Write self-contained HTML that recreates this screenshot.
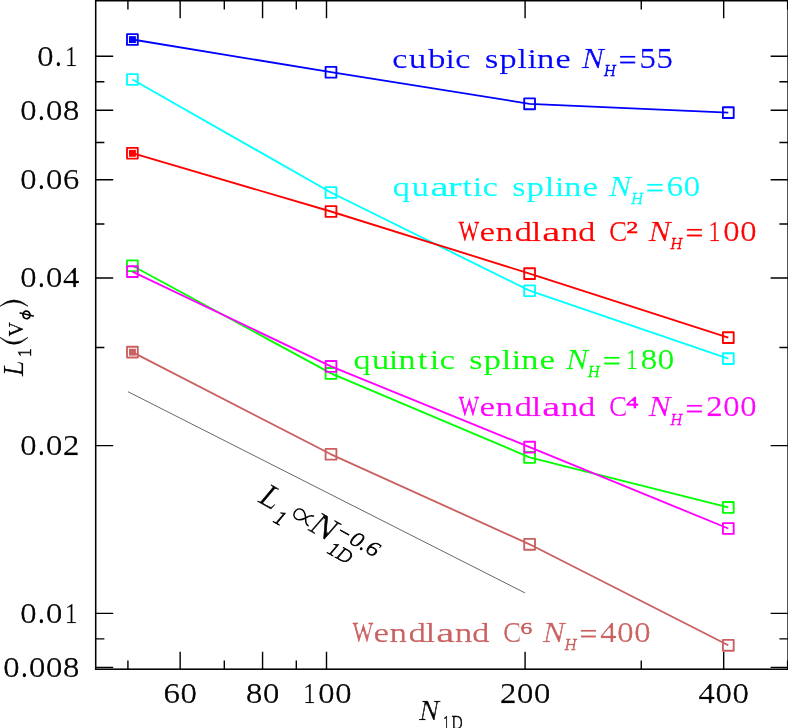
<!DOCTYPE html>
<html><head><meta charset="utf-8"><title>L1 convergence</title>
<style>html,body{margin:0;padding:0;background:#fff}svg{display:block;will-change:transform}text{font-family:"Liberation Serif",serif}.s{font-family:"Liberation Sans",sans-serif}</style></head><body>
<svg width="788" height="728" viewBox="0 0 788 728">
<rect width="788" height="728" fill="#fff"/>
<path d="M127.91 669.2v-8.7M127.91 0.7v8.7M180.15 669.2v-17.5M180.15 0.7v17.5M224.31 669.2v-8.7M224.31 0.7v8.7M262.57 669.2v-17.5M262.57 0.7v17.5M296.31 669.2v-8.7M296.31 0.7v8.7M326.50 669.2v-17.5M326.50 0.7v17.5M525.09 669.2v-17.5M525.09 0.7v17.5M641.26 669.2v-8.7M641.26 0.7v8.7M723.68 669.2v-17.5M723.68 0.7v17.5M95.7 56.20h17.5M788.1 56.20h-17.5M95.7 81.70h8.7M788.1 81.70h-8.7M95.7 110.20h17.5M788.1 110.20h-17.5M95.7 142.51h8.7M788.1 142.51h-8.7M95.7 179.81h17.5M788.1 179.81h-17.5M95.7 223.93h8.7M788.1 223.93h-8.7M95.7 277.93h17.5M788.1 277.93h-17.5M95.7 347.55h8.7M788.1 347.55h-8.7M95.7 445.67h17.5M788.1 445.67h-17.5M95.7 613.40h17.5M788.1 613.40h-17.5M95.7 638.90h8.7M788.1 638.90h-8.7M95.7 667.40h17.5M788.1 667.40h-17.5" stroke="#000" stroke-width="1.4" fill="none"/>
<path d="M787.61 0.7v8.7M787.61 669.2v-8.7" stroke="#000" stroke-width="1.4"/>
<line x1="127.91" y1="391.67" x2="525.09" y2="592.95" stroke="#000" stroke-width="0.6"/>
<g stroke="#0000ff" stroke-width="1.85" fill="none" stroke-linejoin="round">
<polyline points="132.4,39.5 331.0,72.2 529.6,103.8 728.3,112.6"/>
<rect x="127.00" y="34.10" width="10.8" height="10.8"/>
<rect x="325.60" y="66.80" width="10.8" height="10.8"/>
<rect x="524.20" y="98.40" width="10.8" height="10.8"/>
<rect x="722.90" y="107.20" width="10.8" height="10.8"/>
<rect x="129.00" y="36.15" width="6.9" height="6.9" fill="#0000ff" stroke="none"/>
</g>
<g stroke="#00ffff" stroke-width="1.85" fill="none" stroke-linejoin="round">
<polyline points="132.4,79.5 331.0,192.5 529.6,290.7 728.3,358.6"/>
<rect x="127.00" y="74.10" width="10.8" height="10.8"/>
<rect x="325.60" y="187.10" width="10.8" height="10.8"/>
<rect x="524.20" y="285.30" width="10.8" height="10.8"/>
<rect x="722.90" y="353.20" width="10.8" height="10.8"/>
</g>
<g stroke="#00ff00" stroke-width="1.85" fill="none" stroke-linejoin="round">
<polyline points="132.4,265.7 331.0,373.4 529.6,457.4 728.3,507.4"/>
<rect x="127.00" y="260.30" width="10.8" height="10.8"/>
<rect x="325.60" y="368.00" width="10.8" height="10.8"/>
<rect x="524.20" y="452.00" width="10.8" height="10.8"/>
<rect x="722.90" y="502.00" width="10.8" height="10.8"/>
</g>
<g stroke="#ff0000" stroke-width="1.85" fill="none" stroke-linejoin="round">
<polyline points="132.4,153.2 331.0,211.5 529.6,273.6 728.3,337.6"/>
<rect x="127.00" y="147.80" width="10.8" height="10.8"/>
<rect x="325.60" y="206.10" width="10.8" height="10.8"/>
<rect x="524.20" y="268.20" width="10.8" height="10.8"/>
<rect x="722.90" y="332.20" width="10.8" height="10.8"/>
<rect x="129.00" y="149.85" width="6.9" height="6.9" fill="#ff0000" stroke="none"/>
</g>
<g stroke="#ff00ff" stroke-width="1.85" fill="none" stroke-linejoin="round">
<polyline points="132.4,271.6 331.0,366.4 529.6,447.1 728.3,528.5"/>
<rect x="127.00" y="266.20" width="10.8" height="10.8"/>
<rect x="325.60" y="361.00" width="10.8" height="10.8"/>
<rect x="524.20" y="441.70" width="10.8" height="10.8"/>
<rect x="722.90" y="523.10" width="10.8" height="10.8"/>
</g>
<g stroke="#ca6060" stroke-width="1.85" fill="none" stroke-linejoin="round">
<polyline points="132.4,352.1 331.0,454.3 529.6,544.3 728.3,645.3"/>
<rect x="127.00" y="346.70" width="10.8" height="10.8"/>
<rect x="325.60" y="448.90" width="10.8" height="10.8"/>
<rect x="524.20" y="538.90" width="10.8" height="10.8"/>
<rect x="722.90" y="639.90" width="10.8" height="10.8"/>
<rect x="129.00" y="348.75" width="6.9" height="6.9" fill="#ca6060" stroke="none"/>
</g>
<rect x="95.7" y="0.7" width="692.4" height="668.5" fill="none" stroke="#000" stroke-width="1.55"/>
<path d="M0 337.4Q14 351.0 28 337.4Q14 347.2 0 337.4Z" fill="#000" stroke="#000" stroke-width="0.6" stroke-linejoin="round"/>
<path d="M0 306.2Q14 293.8 28 306.2Q14 297.6 0 306.2Z" fill="#000" stroke="#000" stroke-width="0.6" stroke-linejoin="round"/>
<g fill="none" stroke="#000" stroke-width="1.7" stroke-linecap="round"><ellipse cx="26.5" cy="314.9" rx="3.5" ry="3.8" transform="rotate(-13 26.5 314.9)"/><path d="M20.2 313.0L33.2 316.0"/></g>
<path transform="translate(258.1 501.9) rotate(29.5) translate(46.3 -9.4)" d="M9.5 -5.5C5.5 -5.5 4.5 -2.5 3 0C1 3 -1 5.5 -4.3 5.5C-7.5 5.5 -9.5 3 -9.5 0C-9.5 -3 -7.5 -5.5 -4.3 -5.5C-1 -5.5 1 -3 3 0C4.5 2.5 5.5 5.5 9.5 5.5" fill="none" stroke="#000" stroke-width="1.5"/>
<defs><mask id="m" maskUnits="userSpaceOnUse" x="0" y="0" width="788" height="728">
<text transform="translate(45.00 65.70) scale(1.178 1)" text-anchor="middle" font-size="28.50" fill="#fff" stroke="#fff" stroke-width="0.50">0</text>
<text transform="translate(57.80 65.70) scale(0.938 1)" text-anchor="middle" font-size="28.50" fill="#fff" stroke="#fff" stroke-width="1.10">.</text>
<text transform="translate(70.60 65.70) scale(0.896 1)" text-anchor="middle" font-size="28.50" fill="#fff" stroke="#fff" stroke-width="0.50">1</text>
<text transform="translate(28.00 119.70) scale(1.178 1)" text-anchor="middle" font-size="28.50" fill="#fff" stroke="#fff" stroke-width="0.50">0</text>
<text transform="translate(40.80 119.70) scale(0.938 1)" text-anchor="middle" font-size="28.50" fill="#fff" stroke="#fff" stroke-width="1.10">.</text>
<text transform="translate(53.60 119.70) scale(1.178 1)" text-anchor="middle" font-size="28.50" fill="#fff" stroke="#fff" stroke-width="0.50">0</text>
<text transform="translate(70.60 119.70) scale(1.178 1)" text-anchor="middle" font-size="28.50" fill="#fff" stroke="#fff" stroke-width="0.50">8</text>
<text transform="translate(28.00 189.31) scale(1.178 1)" text-anchor="middle" font-size="28.50" fill="#fff" stroke="#fff" stroke-width="0.50">0</text>
<text transform="translate(40.80 189.31) scale(0.938 1)" text-anchor="middle" font-size="28.50" fill="#fff" stroke="#fff" stroke-width="1.10">.</text>
<text transform="translate(53.60 189.31) scale(1.178 1)" text-anchor="middle" font-size="28.50" fill="#fff" stroke="#fff" stroke-width="0.50">0</text>
<text transform="translate(70.60 189.31) scale(1.178 1)" text-anchor="middle" font-size="28.50" fill="#fff" stroke="#fff" stroke-width="0.50">6</text>
<text transform="translate(28.00 287.43) scale(1.178 1)" text-anchor="middle" font-size="28.50" fill="#fff" stroke="#fff" stroke-width="0.50">0</text>
<text transform="translate(40.80 287.43) scale(0.938 1)" text-anchor="middle" font-size="28.50" fill="#fff" stroke="#fff" stroke-width="1.10">.</text>
<text transform="translate(53.60 287.43) scale(1.178 1)" text-anchor="middle" font-size="28.50" fill="#fff" stroke="#fff" stroke-width="0.50">0</text>
<text transform="translate(70.60 287.43) scale(1.178 1)" text-anchor="middle" font-size="28.50" fill="#fff" stroke="#fff" stroke-width="0.50">4</text>
<text transform="translate(28.00 455.17) scale(1.178 1)" text-anchor="middle" font-size="28.50" fill="#fff" stroke="#fff" stroke-width="0.50">0</text>
<text transform="translate(40.80 455.17) scale(0.938 1)" text-anchor="middle" font-size="28.50" fill="#fff" stroke="#fff" stroke-width="1.10">.</text>
<text transform="translate(53.60 455.17) scale(1.178 1)" text-anchor="middle" font-size="28.50" fill="#fff" stroke="#fff" stroke-width="0.50">0</text>
<text transform="translate(70.60 455.17) scale(1.178 1)" text-anchor="middle" font-size="28.50" fill="#fff" stroke="#fff" stroke-width="0.50">2</text>
<text transform="translate(28.00 622.90) scale(1.178 1)" text-anchor="middle" font-size="28.50" fill="#fff" stroke="#fff" stroke-width="0.50">0</text>
<text transform="translate(40.80 622.90) scale(0.938 1)" text-anchor="middle" font-size="28.50" fill="#fff" stroke="#fff" stroke-width="1.10">.</text>
<text transform="translate(53.60 622.90) scale(1.178 1)" text-anchor="middle" font-size="28.50" fill="#fff" stroke="#fff" stroke-width="0.50">0</text>
<text transform="translate(70.60 622.90) scale(0.896 1)" text-anchor="middle" font-size="28.50" fill="#fff" stroke="#fff" stroke-width="0.50">1</text>
<text transform="translate(11.00 676.90) scale(1.178 1)" text-anchor="middle" font-size="28.50" fill="#fff" stroke="#fff" stroke-width="0.50">0</text>
<text transform="translate(23.80 676.90) scale(0.938 1)" text-anchor="middle" font-size="28.50" fill="#fff" stroke="#fff" stroke-width="1.10">.</text>
<text transform="translate(36.60 676.90) scale(1.178 1)" text-anchor="middle" font-size="28.50" fill="#fff" stroke="#fff" stroke-width="0.50">0</text>
<text transform="translate(53.60 676.90) scale(1.178 1)" text-anchor="middle" font-size="28.50" fill="#fff" stroke="#fff" stroke-width="0.50">0</text>
<text transform="translate(70.60 676.90) scale(1.178 1)" text-anchor="middle" font-size="28.50" fill="#fff" stroke="#fff" stroke-width="0.50">8</text>
<text transform="translate(171.15 703.30) scale(1.178 1)" text-anchor="middle" font-size="28.50" fill="#fff" stroke="#fff" stroke-width="0.50">6</text>
<text transform="translate(188.15 703.30) scale(1.178 1)" text-anchor="middle" font-size="28.50" fill="#fff" stroke="#fff" stroke-width="0.50">0</text>
<text transform="translate(253.57 703.30) scale(1.178 1)" text-anchor="middle" font-size="28.50" fill="#fff" stroke="#fff" stroke-width="0.50">8</text>
<text transform="translate(270.57 703.30) scale(1.178 1)" text-anchor="middle" font-size="28.50" fill="#fff" stroke="#fff" stroke-width="0.50">0</text>
<text transform="translate(309.00 703.30) scale(0.896 1)" text-anchor="middle" font-size="28.50" fill="#fff" stroke="#fff" stroke-width="0.50">1</text>
<text transform="translate(326.00 703.30) scale(1.178 1)" text-anchor="middle" font-size="28.50" fill="#fff" stroke="#fff" stroke-width="0.50">0</text>
<text transform="translate(343.00 703.30) scale(1.178 1)" text-anchor="middle" font-size="28.50" fill="#fff" stroke="#fff" stroke-width="0.50">0</text>
<text transform="translate(507.59 703.30) scale(1.178 1)" text-anchor="middle" font-size="28.50" fill="#fff" stroke="#fff" stroke-width="0.50">2</text>
<text transform="translate(524.59 703.30) scale(1.178 1)" text-anchor="middle" font-size="28.50" fill="#fff" stroke="#fff" stroke-width="0.50">0</text>
<text transform="translate(541.59 703.30) scale(1.178 1)" text-anchor="middle" font-size="28.50" fill="#fff" stroke="#fff" stroke-width="0.50">0</text>
<text transform="translate(706.18 703.30) scale(1.178 1)" text-anchor="middle" font-size="28.50" fill="#fff" stroke="#fff" stroke-width="0.50">4</text>
<text transform="translate(723.18 703.30) scale(1.178 1)" text-anchor="middle" font-size="28.50" fill="#fff" stroke="#fff" stroke-width="0.50">0</text>
<text transform="translate(740.18 703.30) scale(1.178 1)" text-anchor="middle" font-size="28.50" fill="#fff" stroke="#fff" stroke-width="0.50">0</text>
<text transform="translate(399.20 68.00) scale(1.316 1)" text-anchor="middle" font-size="26.70" fill="#fff" stroke="#fff" stroke-width="0.50">c</text>
<text transform="translate(417.00 68.00) scale(1.316 1)" text-anchor="middle" font-size="26.70" fill="#fff" stroke="#fff" stroke-width="0.50">u</text>
<text transform="translate(436.20 68.00) scale(1.316 1)" text-anchor="middle" font-size="26.70" fill="#fff" stroke="#fff" stroke-width="0.50">b</text>
<text transform="translate(449.50 68.00) scale(1.316 1)" text-anchor="middle" font-size="26.70" fill="#fff" stroke="#fff" stroke-width="0.50">i</text>
<text transform="translate(462.40 68.00) scale(1.316 1)" text-anchor="middle" font-size="26.70" fill="#fff" stroke="#fff" stroke-width="0.50">c</text>
<text transform="translate(491.10 68.00) scale(1.316 1)" text-anchor="middle" font-size="26.70" fill="#fff" stroke="#fff" stroke-width="0.50">s</text>
<text transform="translate(507.50 68.00) scale(1.316 1)" text-anchor="middle" font-size="26.70" fill="#fff" stroke="#fff" stroke-width="0.50">p</text>
<text transform="translate(521.70 68.00) scale(1.316 1)" text-anchor="middle" font-size="26.70" fill="#fff" stroke="#fff" stroke-width="0.50">l</text>
<text transform="translate(531.70 68.00) scale(1.316 1)" text-anchor="middle" font-size="26.70" fill="#fff" stroke="#fff" stroke-width="0.50">i</text>
<text transform="translate(545.00 68.00) scale(1.316 1)" text-anchor="middle" font-size="26.70" fill="#fff" stroke="#fff" stroke-width="0.50">n</text>
<text transform="translate(562.60 68.00) scale(1.316 1)" text-anchor="middle" font-size="26.70" fill="#fff" stroke="#fff" stroke-width="0.50">e</text>
<text transform="translate(592.40 68.00) scale(1.167 1)" text-anchor="middle" font-size="28.50" fill="#fff" font-style="italic" stroke="#fff" stroke-width="0.50">N</text>
<text transform="translate(609.20 76.20) scale(0.996 1)" text-anchor="middle" font-size="16.81" fill="#fff" font-style="italic" stroke="#fff" stroke-width="0.90">H</text>
<text transform="translate(627.10 70.30) scale(1.167 1)" text-anchor="middle" font-size="28.50" fill="#fff" stroke="#fff" stroke-width="0.50">=</text>
<text transform="translate(647.10 68.00) scale(1.178 1)" text-anchor="middle" font-size="28.50" fill="#fff" stroke="#fff" stroke-width="0.50">5</text>
<text transform="translate(664.10 68.00) scale(1.178 1)" text-anchor="middle" font-size="28.50" fill="#fff" stroke="#fff" stroke-width="0.50">5</text>
<text transform="translate(400.80 195.80) scale(1.316 1)" text-anchor="middle" font-size="26.70" fill="#fff" stroke="#fff" stroke-width="0.50">q</text>
<text transform="translate(419.90 195.80) scale(1.316 1)" text-anchor="middle" font-size="26.70" fill="#fff" stroke="#fff" stroke-width="0.50">u</text>
<text transform="translate(438.90 195.80) scale(1.562 1)" text-anchor="middle" font-size="26.70" fill="#fff" stroke="#fff" stroke-width="0.50">a</text>
<text transform="translate(454.10 195.80) scale(1.562 1)" text-anchor="middle" font-size="26.70" fill="#fff" stroke="#fff" stroke-width="0.50">r</text>
<text transform="translate(466.70 195.80) scale(1.316 1)" text-anchor="middle" font-size="26.70" fill="#fff" stroke="#fff" stroke-width="0.50">t</text>
<text transform="translate(477.10 195.80) scale(1.316 1)" text-anchor="middle" font-size="26.70" fill="#fff" stroke="#fff" stroke-width="0.50">i</text>
<text transform="translate(489.90 195.80) scale(1.316 1)" text-anchor="middle" font-size="26.70" fill="#fff" stroke="#fff" stroke-width="0.50">c</text>
<text transform="translate(518.40 195.80) scale(1.316 1)" text-anchor="middle" font-size="26.70" fill="#fff" stroke="#fff" stroke-width="0.50">s</text>
<text transform="translate(534.80 195.80) scale(1.316 1)" text-anchor="middle" font-size="26.70" fill="#fff" stroke="#fff" stroke-width="0.50">p</text>
<text transform="translate(549.00 195.80) scale(1.316 1)" text-anchor="middle" font-size="26.70" fill="#fff" stroke="#fff" stroke-width="0.50">l</text>
<text transform="translate(559.00 195.80) scale(1.316 1)" text-anchor="middle" font-size="26.70" fill="#fff" stroke="#fff" stroke-width="0.50">i</text>
<text transform="translate(572.30 195.80) scale(1.316 1)" text-anchor="middle" font-size="26.70" fill="#fff" stroke="#fff" stroke-width="0.50">n</text>
<text transform="translate(589.90 195.80) scale(1.316 1)" text-anchor="middle" font-size="26.70" fill="#fff" stroke="#fff" stroke-width="0.50">e</text>
<text transform="translate(619.70 195.80) scale(1.167 1)" text-anchor="middle" font-size="28.50" fill="#fff" font-style="italic" stroke="#fff" stroke-width="0.50">N</text>
<text transform="translate(636.50 204.00) scale(0.996 1)" text-anchor="middle" font-size="16.81" fill="#fff" font-style="italic" stroke="#fff" stroke-width="0.90">H</text>
<text transform="translate(654.40 198.10) scale(1.167 1)" text-anchor="middle" font-size="28.50" fill="#fff" stroke="#fff" stroke-width="0.50">=</text>
<text transform="translate(674.40 195.80) scale(1.178 1)" text-anchor="middle" font-size="28.50" fill="#fff" stroke="#fff" stroke-width="0.50">6</text>
<text transform="translate(691.40 195.80) scale(1.178 1)" text-anchor="middle" font-size="28.50" fill="#fff" stroke="#fff" stroke-width="0.50">0</text>
<text transform="translate(468.40 241.00) scale(0.771 1)" text-anchor="middle" font-size="28.50" fill="#fff" stroke="#fff" stroke-width="1.05">W</text>
<text transform="translate(486.80 241.00) scale(1.316 1)" text-anchor="middle" font-size="26.70" fill="#fff" stroke="#fff" stroke-width="0.50">e</text>
<text transform="translate(503.90 241.00) scale(1.316 1)" text-anchor="middle" font-size="26.70" fill="#fff" stroke="#fff" stroke-width="0.50">n</text>
<text transform="translate(522.90 241.00) scale(1.316 1)" text-anchor="middle" font-size="26.70" fill="#fff" stroke="#fff" stroke-width="0.50">d</text>
<text transform="translate(535.90 241.00) scale(1.316 1)" text-anchor="middle" font-size="26.70" fill="#fff" stroke="#fff" stroke-width="0.50">l</text>
<text transform="translate(550.80 241.00) scale(1.562 1)" text-anchor="middle" font-size="26.70" fill="#fff" stroke="#fff" stroke-width="0.50">a</text>
<text transform="translate(569.00 241.00) scale(1.316 1)" text-anchor="middle" font-size="26.70" fill="#fff" stroke="#fff" stroke-width="0.50">n</text>
<text transform="translate(586.30 241.00) scale(1.316 1)" text-anchor="middle" font-size="26.70" fill="#fff" stroke="#fff" stroke-width="0.50">d</text>
<text transform="translate(617.70 241.00) scale(0.959 1)" text-anchor="middle" font-size="28.50" fill="#fff" stroke="#fff" stroke-width="0.50">C</text>
<text transform="translate(631.80 232.70) scale(1.389 1)" text-anchor="middle" font-size="17.50" fill="#fff" stroke="#fff" stroke-width="0.95">2</text>
<text transform="translate(659.10 241.00) scale(1.167 1)" text-anchor="middle" font-size="28.50" fill="#fff" font-style="italic" stroke="#fff" stroke-width="0.50">N</text>
<text transform="translate(675.90 249.20) scale(0.996 1)" text-anchor="middle" font-size="16.81" fill="#fff" font-style="italic" stroke="#fff" stroke-width="0.90">H</text>
<text transform="translate(693.80 243.30) scale(1.167 1)" text-anchor="middle" font-size="28.50" fill="#fff" stroke="#fff" stroke-width="0.50">=</text>
<text transform="translate(713.80 241.00) scale(0.896 1)" text-anchor="middle" font-size="28.50" fill="#fff" stroke="#fff" stroke-width="0.50">1</text>
<text transform="translate(730.80 241.00) scale(1.178 1)" text-anchor="middle" font-size="28.50" fill="#fff" stroke="#fff" stroke-width="0.50">0</text>
<text transform="translate(747.80 241.00) scale(1.178 1)" text-anchor="middle" font-size="28.50" fill="#fff" stroke="#fff" stroke-width="0.50">0</text>
<text transform="translate(361.60 368.70) scale(1.316 1)" text-anchor="middle" font-size="26.70" fill="#fff" stroke="#fff" stroke-width="0.50">q</text>
<text transform="translate(380.00 368.70) scale(1.316 1)" text-anchor="middle" font-size="26.70" fill="#fff" stroke="#fff" stroke-width="0.50">u</text>
<text transform="translate(393.20 368.70) scale(1.316 1)" text-anchor="middle" font-size="26.70" fill="#fff" stroke="#fff" stroke-width="0.50">i</text>
<text transform="translate(406.50 368.70) scale(1.316 1)" text-anchor="middle" font-size="26.70" fill="#fff" stroke="#fff" stroke-width="0.50">n</text>
<text transform="translate(422.20 368.70) scale(1.316 1)" text-anchor="middle" font-size="26.70" fill="#fff" stroke="#fff" stroke-width="0.50">t</text>
<text transform="translate(434.10 368.70) scale(1.316 1)" text-anchor="middle" font-size="26.70" fill="#fff" stroke="#fff" stroke-width="0.50">i</text>
<text transform="translate(446.90 368.70) scale(1.316 1)" text-anchor="middle" font-size="26.70" fill="#fff" stroke="#fff" stroke-width="0.50">c</text>
<text transform="translate(475.30 368.70) scale(1.316 1)" text-anchor="middle" font-size="26.70" fill="#fff" stroke="#fff" stroke-width="0.50">s</text>
<text transform="translate(491.70 368.70) scale(1.316 1)" text-anchor="middle" font-size="26.70" fill="#fff" stroke="#fff" stroke-width="0.50">p</text>
<text transform="translate(505.90 368.70) scale(1.316 1)" text-anchor="middle" font-size="26.70" fill="#fff" stroke="#fff" stroke-width="0.50">l</text>
<text transform="translate(515.90 368.70) scale(1.316 1)" text-anchor="middle" font-size="26.70" fill="#fff" stroke="#fff" stroke-width="0.50">i</text>
<text transform="translate(529.20 368.70) scale(1.316 1)" text-anchor="middle" font-size="26.70" fill="#fff" stroke="#fff" stroke-width="0.50">n</text>
<text transform="translate(546.80 368.70) scale(1.316 1)" text-anchor="middle" font-size="26.70" fill="#fff" stroke="#fff" stroke-width="0.50">e</text>
<text transform="translate(576.60 368.70) scale(1.167 1)" text-anchor="middle" font-size="28.50" fill="#fff" font-style="italic" stroke="#fff" stroke-width="0.50">N</text>
<text transform="translate(593.40 376.90) scale(0.996 1)" text-anchor="middle" font-size="16.81" fill="#fff" font-style="italic" stroke="#fff" stroke-width="0.90">H</text>
<text transform="translate(611.30 371.00) scale(1.167 1)" text-anchor="middle" font-size="28.50" fill="#fff" stroke="#fff" stroke-width="0.50">=</text>
<text transform="translate(631.30 368.70) scale(0.896 1)" text-anchor="middle" font-size="28.50" fill="#fff" stroke="#fff" stroke-width="0.50">1</text>
<text transform="translate(648.30 368.70) scale(1.178 1)" text-anchor="middle" font-size="28.50" fill="#fff" stroke="#fff" stroke-width="0.50">8</text>
<text transform="translate(665.30 368.70) scale(1.178 1)" text-anchor="middle" font-size="28.50" fill="#fff" stroke="#fff" stroke-width="0.50">0</text>
<text transform="translate(468.40 416.40) scale(0.771 1)" text-anchor="middle" font-size="28.50" fill="#fff" stroke="#fff" stroke-width="1.05">W</text>
<text transform="translate(486.80 416.40) scale(1.316 1)" text-anchor="middle" font-size="26.70" fill="#fff" stroke="#fff" stroke-width="0.50">e</text>
<text transform="translate(503.90 416.40) scale(1.316 1)" text-anchor="middle" font-size="26.70" fill="#fff" stroke="#fff" stroke-width="0.50">n</text>
<text transform="translate(522.90 416.40) scale(1.316 1)" text-anchor="middle" font-size="26.70" fill="#fff" stroke="#fff" stroke-width="0.50">d</text>
<text transform="translate(535.90 416.40) scale(1.316 1)" text-anchor="middle" font-size="26.70" fill="#fff" stroke="#fff" stroke-width="0.50">l</text>
<text transform="translate(550.80 416.40) scale(1.562 1)" text-anchor="middle" font-size="26.70" fill="#fff" stroke="#fff" stroke-width="0.50">a</text>
<text transform="translate(569.00 416.40) scale(1.316 1)" text-anchor="middle" font-size="26.70" fill="#fff" stroke="#fff" stroke-width="0.50">n</text>
<text transform="translate(586.30 416.40) scale(1.316 1)" text-anchor="middle" font-size="26.70" fill="#fff" stroke="#fff" stroke-width="0.50">d</text>
<text transform="translate(617.70 416.40) scale(0.959 1)" text-anchor="middle" font-size="28.50" fill="#fff" stroke="#fff" stroke-width="0.50">C</text>
<text transform="translate(631.80 408.10) scale(1.389 1)" text-anchor="middle" font-size="17.50" fill="#fff" stroke="#fff" stroke-width="0.95">4</text>
<text transform="translate(659.10 416.40) scale(1.167 1)" text-anchor="middle" font-size="28.50" fill="#fff" font-style="italic" stroke="#fff" stroke-width="0.50">N</text>
<text transform="translate(675.90 424.60) scale(0.996 1)" text-anchor="middle" font-size="16.81" fill="#fff" font-style="italic" stroke="#fff" stroke-width="0.90">H</text>
<text transform="translate(693.80 418.70) scale(1.167 1)" text-anchor="middle" font-size="28.50" fill="#fff" stroke="#fff" stroke-width="0.50">=</text>
<text transform="translate(713.80 416.40) scale(1.178 1)" text-anchor="middle" font-size="28.50" fill="#fff" stroke="#fff" stroke-width="0.50">2</text>
<text transform="translate(730.80 416.40) scale(1.178 1)" text-anchor="middle" font-size="28.50" fill="#fff" stroke="#fff" stroke-width="0.50">0</text>
<text transform="translate(747.80 416.40) scale(1.178 1)" text-anchor="middle" font-size="28.50" fill="#fff" stroke="#fff" stroke-width="0.50">0</text>
<text transform="translate(362.40 641.90) scale(0.771 1)" text-anchor="middle" font-size="28.50" fill="#fff" stroke="#fff" stroke-width="1.05">W</text>
<text transform="translate(380.80 641.90) scale(1.316 1)" text-anchor="middle" font-size="26.70" fill="#fff" stroke="#fff" stroke-width="0.50">e</text>
<text transform="translate(397.90 641.90) scale(1.316 1)" text-anchor="middle" font-size="26.70" fill="#fff" stroke="#fff" stroke-width="0.50">n</text>
<text transform="translate(416.90 641.90) scale(1.316 1)" text-anchor="middle" font-size="26.70" fill="#fff" stroke="#fff" stroke-width="0.50">d</text>
<text transform="translate(429.90 641.90) scale(1.316 1)" text-anchor="middle" font-size="26.70" fill="#fff" stroke="#fff" stroke-width="0.50">l</text>
<text transform="translate(444.80 641.90) scale(1.562 1)" text-anchor="middle" font-size="26.70" fill="#fff" stroke="#fff" stroke-width="0.50">a</text>
<text transform="translate(463.00 641.90) scale(1.316 1)" text-anchor="middle" font-size="26.70" fill="#fff" stroke="#fff" stroke-width="0.50">n</text>
<text transform="translate(480.30 641.90) scale(1.316 1)" text-anchor="middle" font-size="26.70" fill="#fff" stroke="#fff" stroke-width="0.50">d</text>
<text transform="translate(511.70 641.90) scale(0.959 1)" text-anchor="middle" font-size="28.50" fill="#fff" stroke="#fff" stroke-width="0.50">C</text>
<text transform="translate(525.80 633.60) scale(1.389 1)" text-anchor="middle" font-size="17.50" fill="#fff" stroke="#fff" stroke-width="0.95">6</text>
<text transform="translate(553.30 641.90) scale(1.167 1)" text-anchor="middle" font-size="28.50" fill="#fff" font-style="italic" stroke="#fff" stroke-width="0.50">N</text>
<text transform="translate(570.10 650.10) scale(0.996 1)" text-anchor="middle" font-size="16.81" fill="#fff" font-style="italic" stroke="#fff" stroke-width="0.90">H</text>
<text transform="translate(588.00 644.20) scale(1.167 1)" text-anchor="middle" font-size="28.50" fill="#fff" stroke="#fff" stroke-width="0.50">=</text>
<text transform="translate(608.00 641.90) scale(1.178 1)" text-anchor="middle" font-size="28.50" fill="#fff" stroke="#fff" stroke-width="0.50">4</text>
<text transform="translate(625.00 641.90) scale(1.178 1)" text-anchor="middle" font-size="28.50" fill="#fff" stroke="#fff" stroke-width="0.50">0</text>
<text transform="translate(642.00 641.90) scale(1.178 1)" text-anchor="middle" font-size="28.50" fill="#fff" stroke="#fff" stroke-width="0.50">0</text>
<text transform="translate(428.60 719.60) scale(1.063 1)" text-anchor="middle" font-size="28.50" fill="#fff" font-style="italic" stroke="#fff" stroke-width="0.50">N</text>
<text transform="translate(445.90 729.30) scale(0.853 1)" text-anchor="middle" font-size="17.96" fill="#fff" stroke="#fff" stroke-width="0.80">1</text>
<text transform="translate(456.50 729.30) scale(0.896 1)" text-anchor="middle" font-size="17.96" fill="#fff" stroke="#fff" stroke-width="0.80">D</text>
<text transform="translate(22.7 0) rotate(-90) translate(-368.90 0.00) scale(1.000 1)" text-anchor="middle" font-size="28.50" fill="#fff" font-style="italic" stroke="#fff" stroke-width="0.50">L</text>
<text transform="translate(22.7 0) rotate(-90) translate(-353.10 8.30) scale(1.067 1)" text-anchor="middle" font-size="17.96" fill="#fff" stroke="#fff" stroke-width="0.80">1</text>
<text transform="translate(22.7 0) rotate(-90) translate(-329.90 0.00) scale(1.000 1)" text-anchor="middle" font-size="28.50" fill="#fff" stroke="#fff" stroke-width="0.50">v</text>
<text transform="translate(258.1 501.9) rotate(29.5) translate(8.00 0.00) scale(1.036 1)" text-anchor="middle" font-size="33.06" fill="#fff" font-style="italic" stroke="#fff" stroke-width="0.50">L</text>
<text transform="translate(258.1 501.9) rotate(29.5) translate(26.60 10.00) scale(1.057 1)" text-anchor="middle" font-size="21.16" fill="#fff" font-style="italic" stroke="#fff" stroke-width="0.80">1</text>
<text transform="translate(258.1 501.9) rotate(29.5) translate(69.00 0.00) scale(1.161 1)" text-anchor="middle" font-size="33.06" fill="#fff" font-style="italic" stroke="#fff" stroke-width="0.50">N</text>
<text transform="translate(258.1 501.9) rotate(29.5) translate(88.50 10.50) scale(1.060 1)" text-anchor="middle" font-size="19.84" fill="#fff" font-style="italic" stroke="#fff" stroke-width="0.80">1</text>
<text transform="translate(258.1 501.9) rotate(29.5) translate(101.10 10.50) scale(1.060 1)" text-anchor="middle" font-size="19.84" fill="#fff" font-style="italic" stroke="#fff" stroke-width="0.80">D</text>
<text transform="translate(258.1 501.9) rotate(29.5) translate(89.60 -9.00) scale(1.057 1)" text-anchor="middle" font-size="21.16" fill="#fff" font-style="italic" stroke="#fff" stroke-width="0.80">−</text>
<text transform="translate(258.1 501.9) rotate(29.5) translate(104.10 -9.00) scale(1.215 1)" text-anchor="middle" font-size="21.16" fill="#fff" font-style="italic" stroke="#fff" stroke-width="0.80">0</text>
<text transform="translate(258.1 501.9) rotate(29.5) translate(112.90 -9.00) scale(1.057 1)" text-anchor="middle" font-size="21.16" fill="#fff" font-style="italic" stroke="#fff" stroke-width="1.10">.</text>
<text transform="translate(258.1 501.9) rotate(29.5) translate(122.50 -9.00) scale(1.215 1)" text-anchor="middle" font-size="21.16" fill="#fff" font-style="italic" stroke="#fff" stroke-width="0.80">6</text>
</mask></defs>
<g mask="url(#m)">
<text transform="translate(46.00 65.70) scale(1.178 1)" text-anchor="middle" font-size="28.50" fill="#000" stroke="#000" stroke-width="0.50">0</text>
<text transform="translate(58.80 65.70) scale(0.938 1)" text-anchor="middle" font-size="28.50" fill="#000" stroke="#000" stroke-width="1.10">.</text>
<text transform="translate(71.60 65.70) scale(0.896 1)" text-anchor="middle" font-size="28.50" fill="#000" stroke="#000" stroke-width="0.50">1</text>
<text transform="translate(29.00 119.70) scale(1.178 1)" text-anchor="middle" font-size="28.50" fill="#000" stroke="#000" stroke-width="0.50">0</text>
<text transform="translate(41.80 119.70) scale(0.938 1)" text-anchor="middle" font-size="28.50" fill="#000" stroke="#000" stroke-width="1.10">.</text>
<text transform="translate(54.60 119.70) scale(1.178 1)" text-anchor="middle" font-size="28.50" fill="#000" stroke="#000" stroke-width="0.50">0</text>
<text transform="translate(71.60 119.70) scale(1.178 1)" text-anchor="middle" font-size="28.50" fill="#000" stroke="#000" stroke-width="0.50">8</text>
<text transform="translate(29.00 189.31) scale(1.178 1)" text-anchor="middle" font-size="28.50" fill="#000" stroke="#000" stroke-width="0.50">0</text>
<text transform="translate(41.80 189.31) scale(0.938 1)" text-anchor="middle" font-size="28.50" fill="#000" stroke="#000" stroke-width="1.10">.</text>
<text transform="translate(54.60 189.31) scale(1.178 1)" text-anchor="middle" font-size="28.50" fill="#000" stroke="#000" stroke-width="0.50">0</text>
<text transform="translate(71.60 189.31) scale(1.178 1)" text-anchor="middle" font-size="28.50" fill="#000" stroke="#000" stroke-width="0.50">6</text>
<text transform="translate(29.00 287.43) scale(1.178 1)" text-anchor="middle" font-size="28.50" fill="#000" stroke="#000" stroke-width="0.50">0</text>
<text transform="translate(41.80 287.43) scale(0.938 1)" text-anchor="middle" font-size="28.50" fill="#000" stroke="#000" stroke-width="1.10">.</text>
<text transform="translate(54.60 287.43) scale(1.178 1)" text-anchor="middle" font-size="28.50" fill="#000" stroke="#000" stroke-width="0.50">0</text>
<text transform="translate(71.60 287.43) scale(1.178 1)" text-anchor="middle" font-size="28.50" fill="#000" stroke="#000" stroke-width="0.50">4</text>
<text transform="translate(29.00 455.17) scale(1.178 1)" text-anchor="middle" font-size="28.50" fill="#000" stroke="#000" stroke-width="0.50">0</text>
<text transform="translate(41.80 455.17) scale(0.938 1)" text-anchor="middle" font-size="28.50" fill="#000" stroke="#000" stroke-width="1.10">.</text>
<text transform="translate(54.60 455.17) scale(1.178 1)" text-anchor="middle" font-size="28.50" fill="#000" stroke="#000" stroke-width="0.50">0</text>
<text transform="translate(71.60 455.17) scale(1.178 1)" text-anchor="middle" font-size="28.50" fill="#000" stroke="#000" stroke-width="0.50">2</text>
<text transform="translate(29.00 622.90) scale(1.178 1)" text-anchor="middle" font-size="28.50" fill="#000" stroke="#000" stroke-width="0.50">0</text>
<text transform="translate(41.80 622.90) scale(0.938 1)" text-anchor="middle" font-size="28.50" fill="#000" stroke="#000" stroke-width="1.10">.</text>
<text transform="translate(54.60 622.90) scale(1.178 1)" text-anchor="middle" font-size="28.50" fill="#000" stroke="#000" stroke-width="0.50">0</text>
<text transform="translate(71.60 622.90) scale(0.896 1)" text-anchor="middle" font-size="28.50" fill="#000" stroke="#000" stroke-width="0.50">1</text>
<text transform="translate(12.00 676.90) scale(1.178 1)" text-anchor="middle" font-size="28.50" fill="#000" stroke="#000" stroke-width="0.50">0</text>
<text transform="translate(24.80 676.90) scale(0.938 1)" text-anchor="middle" font-size="28.50" fill="#000" stroke="#000" stroke-width="1.10">.</text>
<text transform="translate(37.60 676.90) scale(1.178 1)" text-anchor="middle" font-size="28.50" fill="#000" stroke="#000" stroke-width="0.50">0</text>
<text transform="translate(54.60 676.90) scale(1.178 1)" text-anchor="middle" font-size="28.50" fill="#000" stroke="#000" stroke-width="0.50">0</text>
<text transform="translate(71.60 676.90) scale(1.178 1)" text-anchor="middle" font-size="28.50" fill="#000" stroke="#000" stroke-width="0.50">8</text>
<text transform="translate(172.15 703.30) scale(1.178 1)" text-anchor="middle" font-size="28.50" fill="#000" stroke="#000" stroke-width="0.50">6</text>
<text transform="translate(189.15 703.30) scale(1.178 1)" text-anchor="middle" font-size="28.50" fill="#000" stroke="#000" stroke-width="0.50">0</text>
<text transform="translate(254.57 703.30) scale(1.178 1)" text-anchor="middle" font-size="28.50" fill="#000" stroke="#000" stroke-width="0.50">8</text>
<text transform="translate(271.57 703.30) scale(1.178 1)" text-anchor="middle" font-size="28.50" fill="#000" stroke="#000" stroke-width="0.50">0</text>
<text transform="translate(310.00 703.30) scale(0.896 1)" text-anchor="middle" font-size="28.50" fill="#000" stroke="#000" stroke-width="0.50">1</text>
<text transform="translate(327.00 703.30) scale(1.178 1)" text-anchor="middle" font-size="28.50" fill="#000" stroke="#000" stroke-width="0.50">0</text>
<text transform="translate(344.00 703.30) scale(1.178 1)" text-anchor="middle" font-size="28.50" fill="#000" stroke="#000" stroke-width="0.50">0</text>
<text transform="translate(508.59 703.30) scale(1.178 1)" text-anchor="middle" font-size="28.50" fill="#000" stroke="#000" stroke-width="0.50">2</text>
<text transform="translate(525.59 703.30) scale(1.178 1)" text-anchor="middle" font-size="28.50" fill="#000" stroke="#000" stroke-width="0.50">0</text>
<text transform="translate(542.59 703.30) scale(1.178 1)" text-anchor="middle" font-size="28.50" fill="#000" stroke="#000" stroke-width="0.50">0</text>
<text transform="translate(707.18 703.30) scale(1.178 1)" text-anchor="middle" font-size="28.50" fill="#000" stroke="#000" stroke-width="0.50">4</text>
<text transform="translate(724.18 703.30) scale(1.178 1)" text-anchor="middle" font-size="28.50" fill="#000" stroke="#000" stroke-width="0.50">0</text>
<text transform="translate(741.18 703.30) scale(1.178 1)" text-anchor="middle" font-size="28.50" fill="#000" stroke="#000" stroke-width="0.50">0</text>
<text transform="translate(400.20 68.00) scale(1.316 1)" text-anchor="middle" font-size="26.70" fill="#0000ff" stroke="#0000ff" stroke-width="0.50">c</text>
<text transform="translate(418.00 68.00) scale(1.316 1)" text-anchor="middle" font-size="26.70" fill="#0000ff" stroke="#0000ff" stroke-width="0.50">u</text>
<text transform="translate(437.20 68.00) scale(1.316 1)" text-anchor="middle" font-size="26.70" fill="#0000ff" stroke="#0000ff" stroke-width="0.50">b</text>
<text transform="translate(450.50 68.00) scale(1.316 1)" text-anchor="middle" font-size="26.70" fill="#0000ff" stroke="#0000ff" stroke-width="0.50">i</text>
<text transform="translate(463.40 68.00) scale(1.316 1)" text-anchor="middle" font-size="26.70" fill="#0000ff" stroke="#0000ff" stroke-width="0.50">c</text>
<text transform="translate(492.10 68.00) scale(1.316 1)" text-anchor="middle" font-size="26.70" fill="#0000ff" stroke="#0000ff" stroke-width="0.50">s</text>
<text transform="translate(508.50 68.00) scale(1.316 1)" text-anchor="middle" font-size="26.70" fill="#0000ff" stroke="#0000ff" stroke-width="0.50">p</text>
<text transform="translate(522.70 68.00) scale(1.316 1)" text-anchor="middle" font-size="26.70" fill="#0000ff" stroke="#0000ff" stroke-width="0.50">l</text>
<text transform="translate(532.70 68.00) scale(1.316 1)" text-anchor="middle" font-size="26.70" fill="#0000ff" stroke="#0000ff" stroke-width="0.50">i</text>
<text transform="translate(546.00 68.00) scale(1.316 1)" text-anchor="middle" font-size="26.70" fill="#0000ff" stroke="#0000ff" stroke-width="0.50">n</text>
<text transform="translate(563.60 68.00) scale(1.316 1)" text-anchor="middle" font-size="26.70" fill="#0000ff" stroke="#0000ff" stroke-width="0.50">e</text>
<text transform="translate(593.40 68.00) scale(1.167 1)" text-anchor="middle" font-size="28.50" fill="#0000ff" font-style="italic" stroke="#0000ff" stroke-width="0.50">N</text>
<text transform="translate(610.20 76.20) scale(0.996 1)" text-anchor="middle" font-size="16.81" fill="#0000ff" font-style="italic" stroke="#0000ff" stroke-width="0.90">H</text>
<text transform="translate(628.10 70.30) scale(1.167 1)" text-anchor="middle" font-size="28.50" fill="#0000ff" stroke="#0000ff" stroke-width="0.50">=</text>
<text transform="translate(648.10 68.00) scale(1.178 1)" text-anchor="middle" font-size="28.50" fill="#0000ff" stroke="#0000ff" stroke-width="0.50">5</text>
<text transform="translate(665.10 68.00) scale(1.178 1)" text-anchor="middle" font-size="28.50" fill="#0000ff" stroke="#0000ff" stroke-width="0.50">5</text>
<text transform="translate(401.80 195.80) scale(1.316 1)" text-anchor="middle" font-size="26.70" fill="#00ffff" stroke="#00ffff" stroke-width="0.50">q</text>
<text transform="translate(420.90 195.80) scale(1.316 1)" text-anchor="middle" font-size="26.70" fill="#00ffff" stroke="#00ffff" stroke-width="0.50">u</text>
<text transform="translate(439.90 195.80) scale(1.562 1)" text-anchor="middle" font-size="26.70" fill="#00ffff" stroke="#00ffff" stroke-width="0.50">a</text>
<text transform="translate(455.10 195.80) scale(1.562 1)" text-anchor="middle" font-size="26.70" fill="#00ffff" stroke="#00ffff" stroke-width="0.50">r</text>
<text transform="translate(467.70 195.80) scale(1.316 1)" text-anchor="middle" font-size="26.70" fill="#00ffff" stroke="#00ffff" stroke-width="0.50">t</text>
<text transform="translate(478.10 195.80) scale(1.316 1)" text-anchor="middle" font-size="26.70" fill="#00ffff" stroke="#00ffff" stroke-width="0.50">i</text>
<text transform="translate(490.90 195.80) scale(1.316 1)" text-anchor="middle" font-size="26.70" fill="#00ffff" stroke="#00ffff" stroke-width="0.50">c</text>
<text transform="translate(519.40 195.80) scale(1.316 1)" text-anchor="middle" font-size="26.70" fill="#00ffff" stroke="#00ffff" stroke-width="0.50">s</text>
<text transform="translate(535.80 195.80) scale(1.316 1)" text-anchor="middle" font-size="26.70" fill="#00ffff" stroke="#00ffff" stroke-width="0.50">p</text>
<text transform="translate(550.00 195.80) scale(1.316 1)" text-anchor="middle" font-size="26.70" fill="#00ffff" stroke="#00ffff" stroke-width="0.50">l</text>
<text transform="translate(560.00 195.80) scale(1.316 1)" text-anchor="middle" font-size="26.70" fill="#00ffff" stroke="#00ffff" stroke-width="0.50">i</text>
<text transform="translate(573.30 195.80) scale(1.316 1)" text-anchor="middle" font-size="26.70" fill="#00ffff" stroke="#00ffff" stroke-width="0.50">n</text>
<text transform="translate(590.90 195.80) scale(1.316 1)" text-anchor="middle" font-size="26.70" fill="#00ffff" stroke="#00ffff" stroke-width="0.50">e</text>
<text transform="translate(620.70 195.80) scale(1.167 1)" text-anchor="middle" font-size="28.50" fill="#00ffff" font-style="italic" stroke="#00ffff" stroke-width="0.50">N</text>
<text transform="translate(637.50 204.00) scale(0.996 1)" text-anchor="middle" font-size="16.81" fill="#00ffff" font-style="italic" stroke="#00ffff" stroke-width="0.90">H</text>
<text transform="translate(655.40 198.10) scale(1.167 1)" text-anchor="middle" font-size="28.50" fill="#00ffff" stroke="#00ffff" stroke-width="0.50">=</text>
<text transform="translate(675.40 195.80) scale(1.178 1)" text-anchor="middle" font-size="28.50" fill="#00ffff" stroke="#00ffff" stroke-width="0.50">6</text>
<text transform="translate(692.40 195.80) scale(1.178 1)" text-anchor="middle" font-size="28.50" fill="#00ffff" stroke="#00ffff" stroke-width="0.50">0</text>
<text transform="translate(469.40 241.00) scale(0.771 1)" text-anchor="middle" font-size="28.50" fill="#ff0000" stroke="#ff0000" stroke-width="1.05">W</text>
<text transform="translate(487.80 241.00) scale(1.316 1)" text-anchor="middle" font-size="26.70" fill="#ff0000" stroke="#ff0000" stroke-width="0.50">e</text>
<text transform="translate(504.90 241.00) scale(1.316 1)" text-anchor="middle" font-size="26.70" fill="#ff0000" stroke="#ff0000" stroke-width="0.50">n</text>
<text transform="translate(523.90 241.00) scale(1.316 1)" text-anchor="middle" font-size="26.70" fill="#ff0000" stroke="#ff0000" stroke-width="0.50">d</text>
<text transform="translate(536.90 241.00) scale(1.316 1)" text-anchor="middle" font-size="26.70" fill="#ff0000" stroke="#ff0000" stroke-width="0.50">l</text>
<text transform="translate(551.80 241.00) scale(1.562 1)" text-anchor="middle" font-size="26.70" fill="#ff0000" stroke="#ff0000" stroke-width="0.50">a</text>
<text transform="translate(570.00 241.00) scale(1.316 1)" text-anchor="middle" font-size="26.70" fill="#ff0000" stroke="#ff0000" stroke-width="0.50">n</text>
<text transform="translate(587.30 241.00) scale(1.316 1)" text-anchor="middle" font-size="26.70" fill="#ff0000" stroke="#ff0000" stroke-width="0.50">d</text>
<text transform="translate(618.70 241.00) scale(0.959 1)" text-anchor="middle" font-size="28.50" fill="#ff0000" stroke="#ff0000" stroke-width="0.50">C</text>
<text transform="translate(632.80 232.70) scale(1.389 1)" text-anchor="middle" font-size="17.50" fill="#ff0000" stroke="#ff0000" stroke-width="0.95">2</text>
<text transform="translate(660.10 241.00) scale(1.167 1)" text-anchor="middle" font-size="28.50" fill="#ff0000" font-style="italic" stroke="#ff0000" stroke-width="0.50">N</text>
<text transform="translate(676.90 249.20) scale(0.996 1)" text-anchor="middle" font-size="16.81" fill="#ff0000" font-style="italic" stroke="#ff0000" stroke-width="0.90">H</text>
<text transform="translate(694.80 243.30) scale(1.167 1)" text-anchor="middle" font-size="28.50" fill="#ff0000" stroke="#ff0000" stroke-width="0.50">=</text>
<text transform="translate(714.80 241.00) scale(0.896 1)" text-anchor="middle" font-size="28.50" fill="#ff0000" stroke="#ff0000" stroke-width="0.50">1</text>
<text transform="translate(731.80 241.00) scale(1.178 1)" text-anchor="middle" font-size="28.50" fill="#ff0000" stroke="#ff0000" stroke-width="0.50">0</text>
<text transform="translate(748.80 241.00) scale(1.178 1)" text-anchor="middle" font-size="28.50" fill="#ff0000" stroke="#ff0000" stroke-width="0.50">0</text>
<text transform="translate(362.60 368.70) scale(1.316 1)" text-anchor="middle" font-size="26.70" fill="#00ff00" stroke="#00ff00" stroke-width="0.50">q</text>
<text transform="translate(381.00 368.70) scale(1.316 1)" text-anchor="middle" font-size="26.70" fill="#00ff00" stroke="#00ff00" stroke-width="0.50">u</text>
<text transform="translate(394.20 368.70) scale(1.316 1)" text-anchor="middle" font-size="26.70" fill="#00ff00" stroke="#00ff00" stroke-width="0.50">i</text>
<text transform="translate(407.50 368.70) scale(1.316 1)" text-anchor="middle" font-size="26.70" fill="#00ff00" stroke="#00ff00" stroke-width="0.50">n</text>
<text transform="translate(423.20 368.70) scale(1.316 1)" text-anchor="middle" font-size="26.70" fill="#00ff00" stroke="#00ff00" stroke-width="0.50">t</text>
<text transform="translate(435.10 368.70) scale(1.316 1)" text-anchor="middle" font-size="26.70" fill="#00ff00" stroke="#00ff00" stroke-width="0.50">i</text>
<text transform="translate(447.90 368.70) scale(1.316 1)" text-anchor="middle" font-size="26.70" fill="#00ff00" stroke="#00ff00" stroke-width="0.50">c</text>
<text transform="translate(476.30 368.70) scale(1.316 1)" text-anchor="middle" font-size="26.70" fill="#00ff00" stroke="#00ff00" stroke-width="0.50">s</text>
<text transform="translate(492.70 368.70) scale(1.316 1)" text-anchor="middle" font-size="26.70" fill="#00ff00" stroke="#00ff00" stroke-width="0.50">p</text>
<text transform="translate(506.90 368.70) scale(1.316 1)" text-anchor="middle" font-size="26.70" fill="#00ff00" stroke="#00ff00" stroke-width="0.50">l</text>
<text transform="translate(516.90 368.70) scale(1.316 1)" text-anchor="middle" font-size="26.70" fill="#00ff00" stroke="#00ff00" stroke-width="0.50">i</text>
<text transform="translate(530.20 368.70) scale(1.316 1)" text-anchor="middle" font-size="26.70" fill="#00ff00" stroke="#00ff00" stroke-width="0.50">n</text>
<text transform="translate(547.80 368.70) scale(1.316 1)" text-anchor="middle" font-size="26.70" fill="#00ff00" stroke="#00ff00" stroke-width="0.50">e</text>
<text transform="translate(577.60 368.70) scale(1.167 1)" text-anchor="middle" font-size="28.50" fill="#00ff00" font-style="italic" stroke="#00ff00" stroke-width="0.50">N</text>
<text transform="translate(594.40 376.90) scale(0.996 1)" text-anchor="middle" font-size="16.81" fill="#00ff00" font-style="italic" stroke="#00ff00" stroke-width="0.90">H</text>
<text transform="translate(612.30 371.00) scale(1.167 1)" text-anchor="middle" font-size="28.50" fill="#00ff00" stroke="#00ff00" stroke-width="0.50">=</text>
<text transform="translate(632.30 368.70) scale(0.896 1)" text-anchor="middle" font-size="28.50" fill="#00ff00" stroke="#00ff00" stroke-width="0.50">1</text>
<text transform="translate(649.30 368.70) scale(1.178 1)" text-anchor="middle" font-size="28.50" fill="#00ff00" stroke="#00ff00" stroke-width="0.50">8</text>
<text transform="translate(666.30 368.70) scale(1.178 1)" text-anchor="middle" font-size="28.50" fill="#00ff00" stroke="#00ff00" stroke-width="0.50">0</text>
<text transform="translate(469.40 416.40) scale(0.771 1)" text-anchor="middle" font-size="28.50" fill="#ff00ff" stroke="#ff00ff" stroke-width="1.05">W</text>
<text transform="translate(487.80 416.40) scale(1.316 1)" text-anchor="middle" font-size="26.70" fill="#ff00ff" stroke="#ff00ff" stroke-width="0.50">e</text>
<text transform="translate(504.90 416.40) scale(1.316 1)" text-anchor="middle" font-size="26.70" fill="#ff00ff" stroke="#ff00ff" stroke-width="0.50">n</text>
<text transform="translate(523.90 416.40) scale(1.316 1)" text-anchor="middle" font-size="26.70" fill="#ff00ff" stroke="#ff00ff" stroke-width="0.50">d</text>
<text transform="translate(536.90 416.40) scale(1.316 1)" text-anchor="middle" font-size="26.70" fill="#ff00ff" stroke="#ff00ff" stroke-width="0.50">l</text>
<text transform="translate(551.80 416.40) scale(1.562 1)" text-anchor="middle" font-size="26.70" fill="#ff00ff" stroke="#ff00ff" stroke-width="0.50">a</text>
<text transform="translate(570.00 416.40) scale(1.316 1)" text-anchor="middle" font-size="26.70" fill="#ff00ff" stroke="#ff00ff" stroke-width="0.50">n</text>
<text transform="translate(587.30 416.40) scale(1.316 1)" text-anchor="middle" font-size="26.70" fill="#ff00ff" stroke="#ff00ff" stroke-width="0.50">d</text>
<text transform="translate(618.70 416.40) scale(0.959 1)" text-anchor="middle" font-size="28.50" fill="#ff00ff" stroke="#ff00ff" stroke-width="0.50">C</text>
<text transform="translate(632.80 408.10) scale(1.389 1)" text-anchor="middle" font-size="17.50" fill="#ff00ff" stroke="#ff00ff" stroke-width="0.95">4</text>
<text transform="translate(660.10 416.40) scale(1.167 1)" text-anchor="middle" font-size="28.50" fill="#ff00ff" font-style="italic" stroke="#ff00ff" stroke-width="0.50">N</text>
<text transform="translate(676.90 424.60) scale(0.996 1)" text-anchor="middle" font-size="16.81" fill="#ff00ff" font-style="italic" stroke="#ff00ff" stroke-width="0.90">H</text>
<text transform="translate(694.80 418.70) scale(1.167 1)" text-anchor="middle" font-size="28.50" fill="#ff00ff" stroke="#ff00ff" stroke-width="0.50">=</text>
<text transform="translate(714.80 416.40) scale(1.178 1)" text-anchor="middle" font-size="28.50" fill="#ff00ff" stroke="#ff00ff" stroke-width="0.50">2</text>
<text transform="translate(731.80 416.40) scale(1.178 1)" text-anchor="middle" font-size="28.50" fill="#ff00ff" stroke="#ff00ff" stroke-width="0.50">0</text>
<text transform="translate(748.80 416.40) scale(1.178 1)" text-anchor="middle" font-size="28.50" fill="#ff00ff" stroke="#ff00ff" stroke-width="0.50">0</text>
<text transform="translate(363.40 641.90) scale(0.771 1)" text-anchor="middle" font-size="28.50" fill="#ca6060" stroke="#ca6060" stroke-width="1.05">W</text>
<text transform="translate(381.80 641.90) scale(1.316 1)" text-anchor="middle" font-size="26.70" fill="#ca6060" stroke="#ca6060" stroke-width="0.50">e</text>
<text transform="translate(398.90 641.90) scale(1.316 1)" text-anchor="middle" font-size="26.70" fill="#ca6060" stroke="#ca6060" stroke-width="0.50">n</text>
<text transform="translate(417.90 641.90) scale(1.316 1)" text-anchor="middle" font-size="26.70" fill="#ca6060" stroke="#ca6060" stroke-width="0.50">d</text>
<text transform="translate(430.90 641.90) scale(1.316 1)" text-anchor="middle" font-size="26.70" fill="#ca6060" stroke="#ca6060" stroke-width="0.50">l</text>
<text transform="translate(445.80 641.90) scale(1.562 1)" text-anchor="middle" font-size="26.70" fill="#ca6060" stroke="#ca6060" stroke-width="0.50">a</text>
<text transform="translate(464.00 641.90) scale(1.316 1)" text-anchor="middle" font-size="26.70" fill="#ca6060" stroke="#ca6060" stroke-width="0.50">n</text>
<text transform="translate(481.30 641.90) scale(1.316 1)" text-anchor="middle" font-size="26.70" fill="#ca6060" stroke="#ca6060" stroke-width="0.50">d</text>
<text transform="translate(512.70 641.90) scale(0.959 1)" text-anchor="middle" font-size="28.50" fill="#ca6060" stroke="#ca6060" stroke-width="0.50">C</text>
<text transform="translate(526.80 633.60) scale(1.389 1)" text-anchor="middle" font-size="17.50" fill="#ca6060" stroke="#ca6060" stroke-width="0.95">6</text>
<text transform="translate(554.30 641.90) scale(1.167 1)" text-anchor="middle" font-size="28.50" fill="#ca6060" font-style="italic" stroke="#ca6060" stroke-width="0.50">N</text>
<text transform="translate(571.10 650.10) scale(0.996 1)" text-anchor="middle" font-size="16.81" fill="#ca6060" font-style="italic" stroke="#ca6060" stroke-width="0.90">H</text>
<text transform="translate(589.00 644.20) scale(1.167 1)" text-anchor="middle" font-size="28.50" fill="#ca6060" stroke="#ca6060" stroke-width="0.50">=</text>
<text transform="translate(609.00 641.90) scale(1.178 1)" text-anchor="middle" font-size="28.50" fill="#ca6060" stroke="#ca6060" stroke-width="0.50">4</text>
<text transform="translate(626.00 641.90) scale(1.178 1)" text-anchor="middle" font-size="28.50" fill="#ca6060" stroke="#ca6060" stroke-width="0.50">0</text>
<text transform="translate(643.00 641.90) scale(1.178 1)" text-anchor="middle" font-size="28.50" fill="#ca6060" stroke="#ca6060" stroke-width="0.50">0</text>
<text transform="translate(429.60 719.60) scale(1.063 1)" text-anchor="middle" font-size="28.50" fill="#000" font-style="italic" stroke="#000" stroke-width="0.50">N</text>
<text transform="translate(446.90 729.30) scale(0.853 1)" text-anchor="middle" font-size="17.96" fill="#000" stroke="#000" stroke-width="0.80">1</text>
<text transform="translate(457.50 729.30) scale(0.896 1)" text-anchor="middle" font-size="17.96" fill="#000" stroke="#000" stroke-width="0.80">D</text>
<text transform="translate(22.7 0) rotate(-90) translate(-367.90 0.00) scale(1.000 1)" text-anchor="middle" font-size="28.50" fill="#000" font-style="italic" stroke="#000" stroke-width="0.50">L</text>
<text transform="translate(22.7 0) rotate(-90) translate(-352.10 8.30) scale(1.067 1)" text-anchor="middle" font-size="17.96" fill="#000" stroke="#000" stroke-width="0.80">1</text>
<text transform="translate(22.7 0) rotate(-90) translate(-328.90 0.00) scale(1.000 1)" text-anchor="middle" font-size="28.50" fill="#000" stroke="#000" stroke-width="0.50">v</text>
<text transform="translate(258.1 501.9) rotate(29.5) translate(9.00 0.00) scale(1.036 1)" text-anchor="middle" font-size="33.06" fill="#000" font-style="italic" stroke="#000" stroke-width="0.50">L</text>
<text transform="translate(258.1 501.9) rotate(29.5) translate(27.60 10.00) scale(1.057 1)" text-anchor="middle" font-size="21.16" fill="#000" font-style="italic" stroke="#000" stroke-width="0.80">1</text>
<text transform="translate(258.1 501.9) rotate(29.5) translate(70.00 0.00) scale(1.161 1)" text-anchor="middle" font-size="33.06" fill="#000" font-style="italic" stroke="#000" stroke-width="0.50">N</text>
<text transform="translate(258.1 501.9) rotate(29.5) translate(89.50 10.50) scale(1.060 1)" text-anchor="middle" font-size="19.84" fill="#000" font-style="italic" stroke="#000" stroke-width="0.80">1</text>
<text transform="translate(258.1 501.9) rotate(29.5) translate(102.10 10.50) scale(1.060 1)" text-anchor="middle" font-size="19.84" fill="#000" font-style="italic" stroke="#000" stroke-width="0.80">D</text>
<text transform="translate(258.1 501.9) rotate(29.5) translate(90.60 -9.00) scale(1.057 1)" text-anchor="middle" font-size="21.16" fill="#000" font-style="italic" stroke="#000" stroke-width="0.80">−</text>
<text transform="translate(258.1 501.9) rotate(29.5) translate(105.10 -9.00) scale(1.215 1)" text-anchor="middle" font-size="21.16" fill="#000" font-style="italic" stroke="#000" stroke-width="0.80">0</text>
<text transform="translate(258.1 501.9) rotate(29.5) translate(113.90 -9.00) scale(1.057 1)" text-anchor="middle" font-size="21.16" fill="#000" font-style="italic" stroke="#000" stroke-width="1.10">.</text>
<text transform="translate(258.1 501.9) rotate(29.5) translate(123.50 -9.00) scale(1.215 1)" text-anchor="middle" font-size="21.16" fill="#000" font-style="italic" stroke="#000" stroke-width="0.80">6</text>
</g>
</svg></body></html>
